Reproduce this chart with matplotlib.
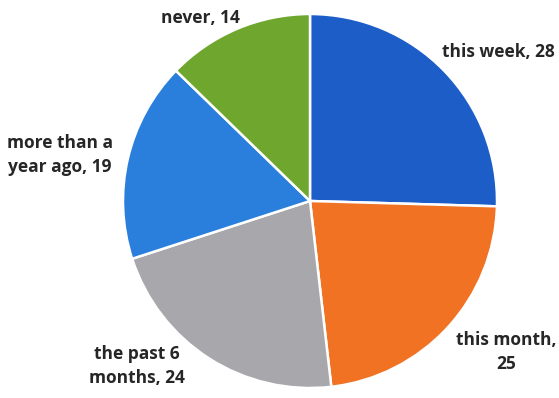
import matplotlib.pyplot as plt

# -----------------------
# DATA
# -----------------------
labels = ["this week, 28", "this month,\n25", "the past 6\nmonths, 24",
          "more than a\nyear ago, 19", "never, 14"]
values = [28, 25, 24, 19, 14]
colors = ["#1d5dc7", "#f07222", "#a8a8ac", "#2b7fdc", "#6ea62e"]

# label centres in pixels of the reference (x, y from top-left)
label_px = [(498, 52), (506, 352), (137, 366), (60, 155), (200, 18)]

# -----------------------
# PLOT
# -----------------------
cx, cy, r = 310, 201, 187
W, H = 559, 398

fig = plt.figure(figsize=(W / 100, H / 100), dpi=100)
ax = fig.add_axes([0, 0, 1, 1])

ax.pie(values, colors=colors, startangle=90, counterclock=False,
       wedgeprops=dict(edgecolor="white", linewidth=1.8))

for lab, (px, py) in zip(labels, label_px):
    ax.text((px - cx) / r, (cy - py) / r, lab, ha="center", va="center",
            fontsize=12.5, fontweight="bold", color="#262626",
            family="Open Sans", linespacing=1.45)

ax.set_aspect("auto")
ax.set_xlim(-cx / r, (W - cx) / r)
ax.set_ylim(-(H - cy) / r, cy / r)
ax.axis("off")

fig.savefig("out.png", dpi=100)
